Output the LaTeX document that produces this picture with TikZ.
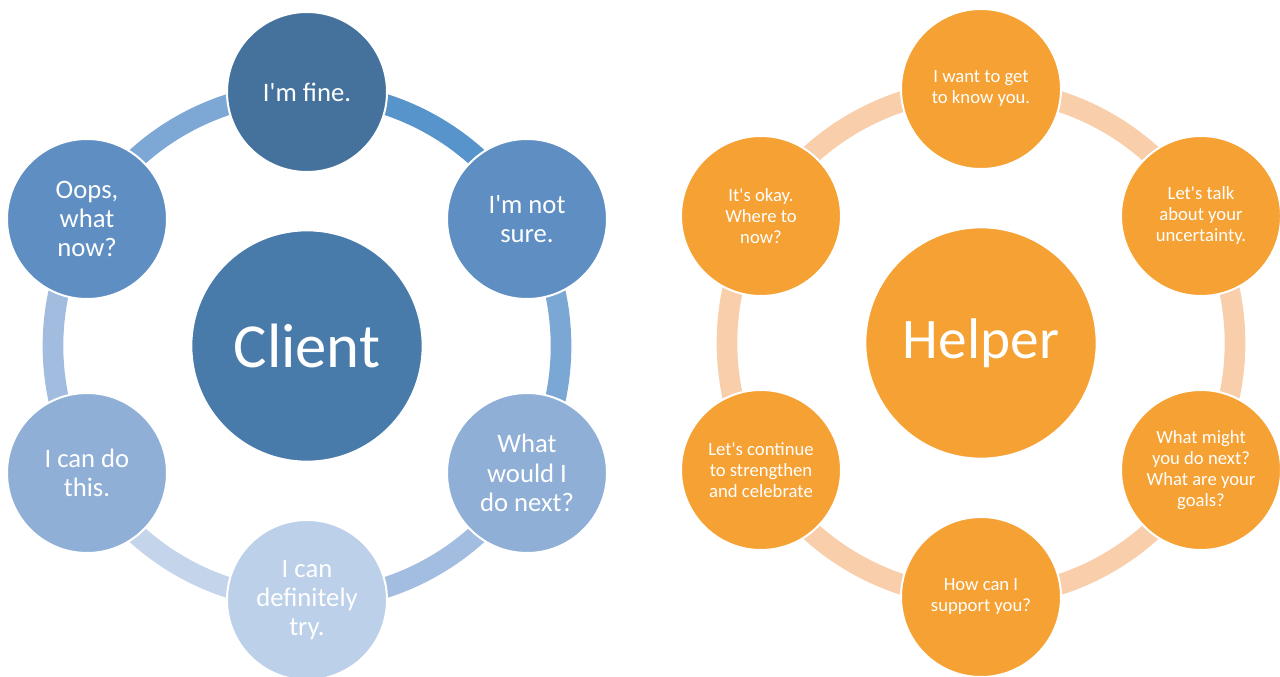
\documentclass[tikz,border=0pt]{standalone}
\usepackage{fontspec}
\setmainfont{Carlito}
\usetikzlibrary{backgrounds}

% straight apostrophe
\newcommand{\ap}{\textquotesingle}

% blue cycle
\definecolor{cFine}{HTML}{44729D}
\definecolor{cSure}{HTML}{5E8EC2}
\definecolor{cNext}{HTML}{8FAFD7}
\definecolor{cTry}{HTML}{BCD0EA}
\definecolor{cDo}{HTML}{8FAFD6}
\definecolor{cOops}{HTML}{5E8EC2}
\definecolor{cClient}{HTML}{487BAA}
\definecolor{rOne}{HTML}{5794CB}
\definecolor{rTwo}{HTML}{7BA7D5}
\definecolor{rThree}{HTML}{A3BDE0}
\definecolor{rFour}{HTML}{C3D4EB}
\definecolor{rFive}{HTML}{A2BCE0}
\definecolor{rSix}{HTML}{7DA8D6}
% orange cycle
\definecolor{cOrange}{HTML}{F5A133}
\definecolor{rPeach}{HTML}{F8CEAB}

\tikzset{
  bubble/.style={circle, draw=white, line width=1.5pt, minimum size=120pt,
    inner sep=0pt, align=center, text=white},
  bluetext/.style={font=\fontsize{20}{22}\selectfont},
  orangetext/.style={font=\fontsize{14}{15.75}\selectfont, fill=cOrange},
  hub/.style={circle, draw=white, line width=1pt, minimum size=173pt,
    inner sep=0pt, text=white},
  ringarc/.style={line width=15.5pt, line cap=butt},
}

\begin{document}
\begin{tikzpicture}[x=0.75pt, y=-0.75pt]
  \useasboundingbox (0,0) rectangle (1280,677);

  % ---- Client cycle ----
  \node[hub, fill=cClient, font=\fontsize{47}{52}\selectfont] (client) at (307,346) {Client};
  \node[bubble, bluetext, fill=cFine] (fine) at (307,92) {I\ap m fine.};
  \node[bubble, bluetext, fill=cSure] (sure) at (527,219) {I\ap m not\\sure.};
  \node[bubble, bluetext, fill=cNext] (next) at (527,473) {What\\would I\\do next?};
  \node[bubble, bluetext, fill=cTry] (try) at (307,600) {I can\\definitely\\try.};
  \node[bubble, bluetext, fill=cDo] (dothis) at (87,473) {I can do\\this.};
  \node[bubble, bluetext, fill=cOops] (oops) at (87,219) {Oops,\\what\\now?};

  \begin{scope}[on background layer]
    \draw[ringarc, rOne]   (fine.center)   arc[start angle=270, end angle=330, radius=254];
    \draw[ringarc, rTwo]   (sure.center)   arc[start angle=330, end angle=390, radius=254];
    \draw[ringarc, rThree] (next.center)   arc[start angle=30,  end angle=90,  radius=254];
    \draw[ringarc, rFour]  (try.center)    arc[start angle=90,  end angle=150, radius=254];
    \draw[ringarc, rFive]  (dothis.center) arc[start angle=150, end angle=210, radius=254];
    \draw[ringarc, rSix]   (oops.center)   arc[start angle=210, end angle=270, radius=254];
  \end{scope}

  % ---- Helper cycle ----
  \node[hub, fill=cOrange, font=\fontsize{43}{48}\selectfont] (helper) at (981,343) {Helper};
  \node[bubble, orangetext] (know) at (981,89) {I want to get\\to know you.};
  \node[bubble, orangetext] (talk) at (1201,216) {Let\ap s talk\\about your\\uncertainty.};
  \node[bubble, orangetext] (goals) at (1201,470) {What might\\you do next?\\What are your\\goals?};
  \node[bubble, orangetext] (support) at (981,597) {How can I\\support you?};
  \node[bubble, orangetext] (celebrate) at (761,470) {Let\ap s continue\\to strengthen\\and celebrate};
  \node[bubble, orangetext] (okay) at (761,216) {It\ap s okay.\\Where to\\now?};

  \begin{scope}[on background layer]
    \draw[ringarc, rPeach] (know.center)      arc[start angle=270, end angle=330, radius=254];
    \draw[ringarc, rPeach] (talk.center)      arc[start angle=330, end angle=390, radius=254];
    \draw[ringarc, rPeach] (goals.center)     arc[start angle=30,  end angle=90,  radius=254];
    \draw[ringarc, rPeach] (support.center)   arc[start angle=90,  end angle=150, radius=254];
    \draw[ringarc, rPeach] (celebrate.center) arc[start angle=150, end angle=210, radius=254];
    \draw[ringarc, rPeach] (okay.center)      arc[start angle=210, end angle=270, radius=254];
  \end{scope}
\end{tikzpicture}
\end{document}
